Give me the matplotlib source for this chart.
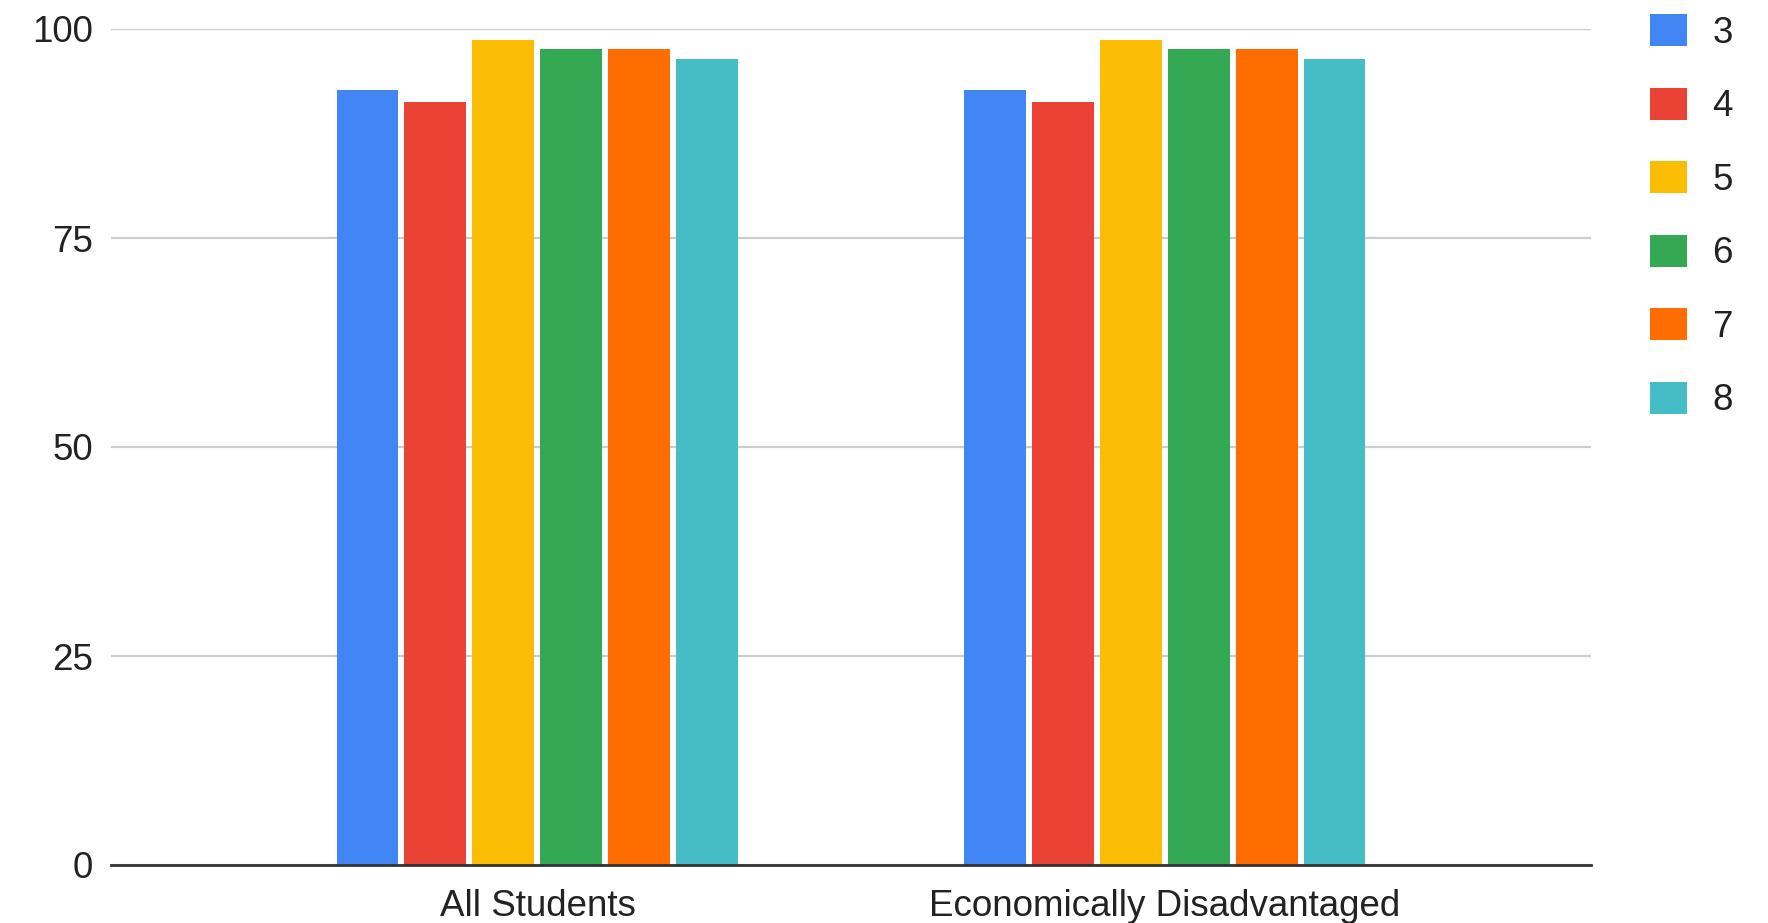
import numpy as np
import matplotlib
matplotlib.use('Agg')
import matplotlib.pyplot as plt
from matplotlib.patches import Patch

# data
groups = ['All Students', 'Economically Disadvantaged']
grades = ['3', '4', '5', '6', '7', '8']
values = {
    '3': [92.7, 92.7],
    '4': [91.3, 91.3],
    '5': [98.7, 98.7],
    '6': [97.6, 97.6],
    '7': [97.6, 97.6],
    '8': [96.4, 96.4],
}
colors = ['#4285F4', '#EA4335', '#FBBC04', '#34A853', '#FF6D01', '#46BDC6']
yticks = [0, 25, 50, 75, 100]

plt.rcParams['font.family'] = ['Liberation Sans', 'DejaVu Sans']
fs = 26.5
txt = '#222222'

fig = plt.figure(figsize=(17.68, 9.23), dpi=100)
ax = fig.add_axes([111 / 1768, 1 - 865 / 923, 1480 / 1768, 836 / 923])

x = np.arange(len(groups))
pitch = 0.1084
width = 0.0988
for j, g in enumerate(grades):
    ax.bar(x + (j - 2.5) * pitch, values[g], width=width, color=colors[j],
           label=g, zorder=3)

ax.set_xlim(-0.68, 1.68)
ax.set_ylim(0, 100)
ax.set_yticks(yticks)
ax.set_xticks(x)
ax.set_xticklabels(groups)
ax.tick_params(axis='both', length=0, labelsize=fs, labelcolor=txt)
ax.tick_params(axis='x', pad=17)
ax.tick_params(axis='y', pad=13)

ax.yaxis.grid(True, color='#cccccc', linewidth=1.6, zorder=0)
ax.set_axisbelow(True)
for s in ['top', 'right', 'left']:
    ax.spines[s].set_visible(False)
ax.spines['bottom'].set_color('#333333')
ax.spines['bottom'].set_linewidth(2.0)
ax.spines['bottom'].set_zorder(4)

handles = [Patch(facecolor=c, edgecolor='none') for c in colors]
fig.legend(handles, grades, loc='upper left',
           bbox_to_anchor=(1650 / 1768, 1 - 14 / 923),
           bbox_transform=fig.transFigure, frameon=False,
           fontsize=fs, labelcolor=txt, borderpad=0, borderaxespad=0,
           handlelength=1.0, handleheight=0.97, handletextpad=0.7,
           labelspacing=1.0)

fig.savefig('out.png', dpi=100, facecolor='white')
